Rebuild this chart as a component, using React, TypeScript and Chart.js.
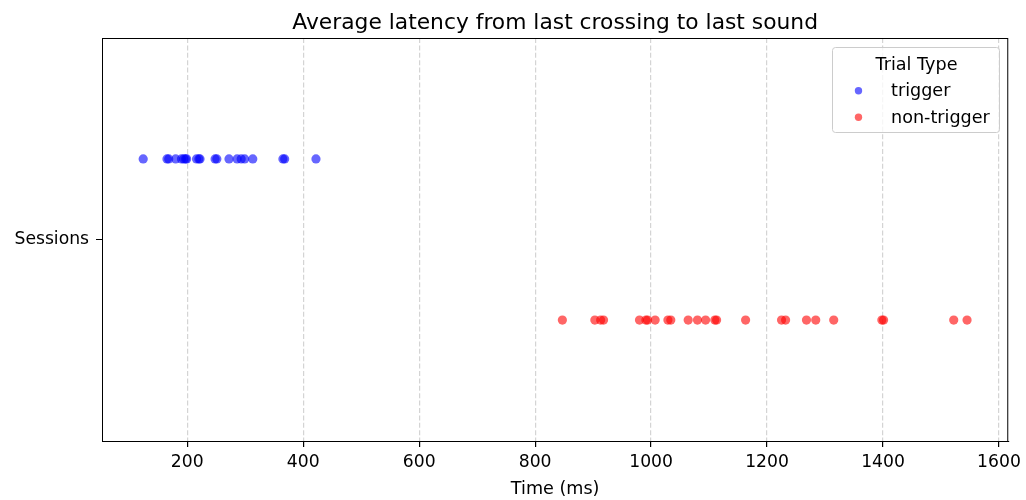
import React, { useEffect, useRef } from "react";
import { Chart, registerables } from "chart.js";

Chart.register(...registerables);

// Average latency per session (ms), one point per session
const TRIGGER_LATENCY = [
  124, 165, 168, 180, 190, 194, 197, 199, 216, 220, 222, 248, 251, 272, 286, 293, 299, 313, 365, 368, 422,
];
const NON_TRIGGER_LATENCY = [
  847, 903, 913, 918, 980, 991, 994, 1007, 1029, 1034, 1064, 1080, 1094, 1110, 1113, 1163, 1225, 1232,
  1268, 1284, 1315, 1398, 1401, 1522, 1545,
];
const SERIES_NAMES = ["trigger", "non-trigger"];
const CATEGORY_LABEL = "Sessions";
const X_TICKS = [200, 400, 600, 800, 1000, 1200, 1400, 1600];
const TITLE = "Average latency from last crossing to last sound";
const X_TITLE = "Time (ms)";
const LEGEND_TITLE = "Trial Type";

const FONT = "'DejaVu Sans', sans-serif";
const BLUE = "rgba(0,0,255,0.6)";
const RED = "rgba(255,0,0,0.6)";
const TICK_SIZE = 17.2;
const LABEL_SIZE = 17.6;
const TITLE_SIZE = 21.8;

// Dodge offsets of the two hues around the single category
const DODGE = 0.2;

const allValues = [...TRIGGER_LATENCY, ...NON_TRIGGER_LATENCY];
const dataMin = Math.min(...allValues);
const dataMax = Math.max(...allValues);
const margin = (dataMax - dataMin) * 0.05;

const decorations = {
  id: "decorations",
  afterDraw(chart: any) {
    const { ctx, chartArea } = chart;
    const { left, right, top, bottom } = chartArea;
    ctx.save();
    // frame
    ctx.strokeStyle = "#000";
    ctx.lineWidth = 1;
    ctx.strokeRect(left + 0.5, top + 0.5, right - left - 1, bottom - top);

    // title
    ctx.fillStyle = "#000";
    ctx.textAlign = "center";
    ctx.textBaseline = "alphabetic";
    ctx.font = `${TITLE_SIZE}px ${FONT}`;
    ctx.fillText(TITLE, (left + right) / 2, 28.5);

    // x axis title
    ctx.font = `${LABEL_SIZE}px ${FONT}`;
    ctx.fillText(X_TITLE, (left + right) / 2, 494);

    // legend
    const lx = 832.5, ly = 47.5, lw = 167, lh = 85, r = 3;
    ctx.beginPath();
    ctx.moveTo(lx + r, ly);
    ctx.lineTo(lx + lw - r, ly);
    ctx.quadraticCurveTo(lx + lw, ly, lx + lw, ly + r);
    ctx.lineTo(lx + lw, ly + lh - r);
    ctx.quadraticCurveTo(lx + lw, ly + lh, lx + lw - r, ly + lh);
    ctx.lineTo(lx + r, ly + lh);
    ctx.quadraticCurveTo(lx, ly + lh, lx, ly + lh - r);
    ctx.lineTo(lx, ly + r);
    ctx.quadraticCurveTo(lx, ly, lx + r, ly);
    ctx.closePath();
    ctx.fillStyle = "rgba(255,255,255,0.8)";
    ctx.fill();
    ctx.strokeStyle = "#cccccc";
    ctx.stroke();

    ctx.fillStyle = "#000";
    ctx.textAlign = "center";
    ctx.fillText(LEGEND_TITLE, 916.5, 70);
    const colors = [BLUE, RED];
    SERIES_NAMES.forEach((name, i) => {
      const y = 90.7 + i * 26.6;
      ctx.beginPath();
      ctx.arc(858.5, y, 3.7, 0, Math.PI * 2);
      ctx.fillStyle = colors[i];
      ctx.fill();
      ctx.fillStyle = "#000";
      ctx.textAlign = "left";
      ctx.fillText(name, 891, y + 5.5);
    });
    ctx.restore();
  },
};

export default function App() {
  const canvasRef = useRef<HTMLCanvasElement | null>(null);

  useEffect(() => {
    document.body.style.margin = "0";
    const canvas = canvasRef.current;
    if (!canvas) return;
    const chart = new Chart(canvas, {
      type: "scatter",
      data: {
        datasets: [
          {
            label: SERIES_NAMES[0],
            data: TRIGGER_LATENCY.map((v) => ({ x: v, y: DODGE })),
            backgroundColor: BLUE,
            borderWidth: 0,
            pointRadius: 4.6,
            pointHoverRadius: 4.6,
          },
          {
            label: SERIES_NAMES[1],
            data: NON_TRIGGER_LATENCY.map((v) => ({ x: v, y: -DODGE })),
            backgroundColor: RED,
            borderWidth: 0,
            pointRadius: 4.6,
            pointHoverRadius: 4.6,
          },
        ],
      },
      options: {
        animation: false,
        responsive: false,
        layout: { padding: { left: 0, top: 38, right: 17, bottom: 0 } },
        plugins: {
          legend: { display: false },
          title: { display: false },
          tooltip: { enabled: false },
        },
        scales: {
          x: {
            type: "linear",
            min: dataMin - margin,
            max: dataMax + margin,
            afterBuildTicks: (scale: any) => {
              scale.ticks = X_TICKS.map((v) => ({ value: v }));
            },
            afterFit: (scale: any) => {
              scale.height = 59;
            },
            ticks: {
              color: "#000",
              font: { family: FONT, size: TICK_SIZE },
              padding: 5,
              maxRotation: 0,
              autoSkip: false,
              callback: (v: any) => String(v),
            },
            grid: {
              display: true,
              drawOnChartArea: true,
              drawTicks: true,
              tickLength: 6,
              color: "rgba(176,176,176,0.55)",
              tickColor: "#000",
              lineWidth: 1.2,
            },
            border: { display: true, color: "#000", width: 1, dash: [5, 2.4] } as any,
          },
          y: {
            type: "linear",
            min: -0.5,
            max: 0.5,
            afterBuildTicks: (scale: any) => {
              scale.ticks = [{ value: 0 }];
            },
            afterFit: (scale: any) => {
              scale.width = 102;
            },
            ticks: {
              color: "#000",
              font: { family: FONT, size: TICK_SIZE },
              padding: 7,
              callback: () => CATEGORY_LABEL,
            },
            grid: {
              display: true,
              drawOnChartArea: false,
              drawTicks: true,
              tickLength: 6,
              tickColor: "#000",
            },
            border: { display: true, color: "#000", width: 1 },
          },
        },
      },
      plugins: [decorations],
    });
    return () => chart.destroy();
  }, []);

  return (
    <div style={{ position: "absolute", left: 0, top: 0, width: 1026, height: 500, background: "#fff" }}>
      <canvas ref={canvasRef} width={1026} height={500} style={{ width: 1026, height: 500 }} />
    </div>
  );
}
